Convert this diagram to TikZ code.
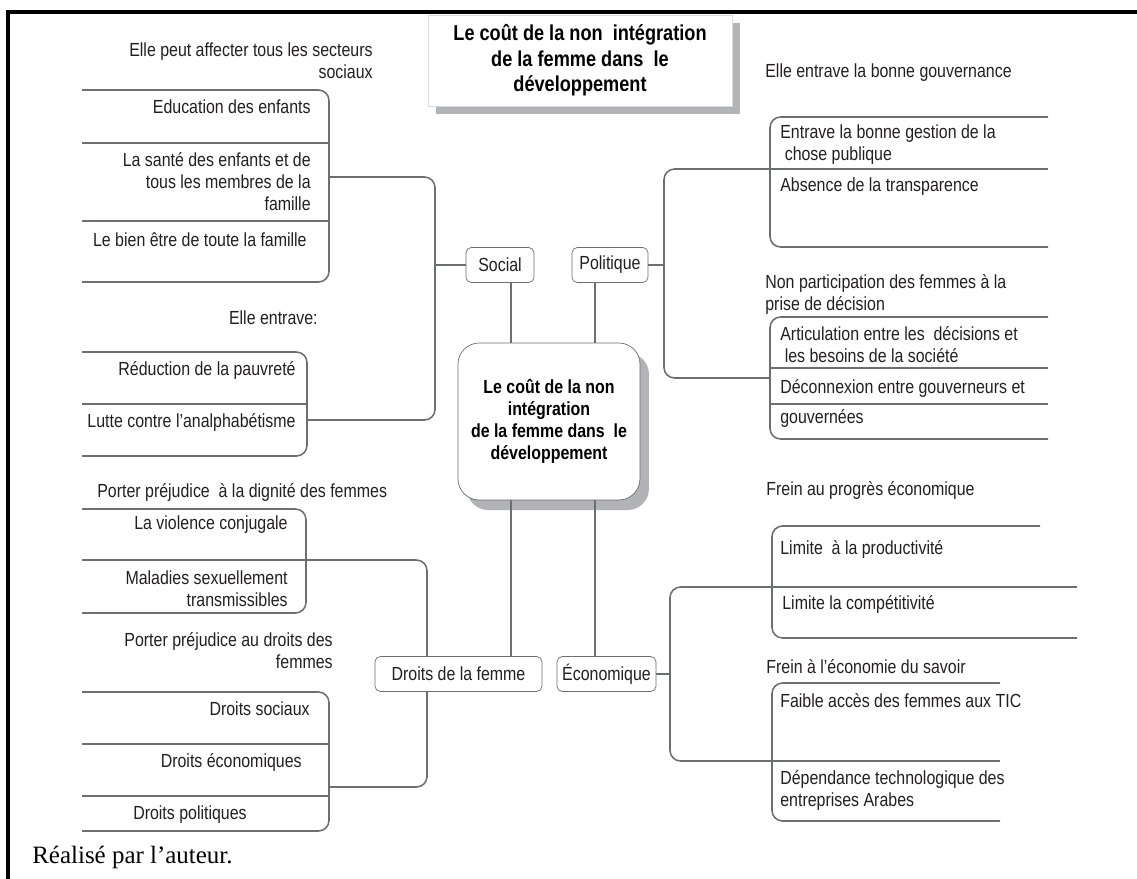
\documentclass[tikz,border=0pt]{standalone}
\usepackage{fontspec}
\setmainfont{Liberation Sans}[FakeStretch=0.84]
\newfontfamily\footfont{Liberation Serif}
\usetikzlibrary{shadows}
\definecolor{linegray}{HTML}{6D6E71}
\definecolor{shadegray}{HTML}{B1B3B6}
\definecolor{inkgray}{HTML}{231F20}

\begin{document}
\begin{tikzpicture}[x=0.02cm, y=-0.02cm]
            \tikzstyle{item} = [inner sep=0pt, text=inkgray, font=\fontsize{10.8}{12.5}\selectfont]
            \tikzstyle{itemr} = [item, anchor=east, align=right]
            \tikzstyle{iteml} = [item, anchor=west, align=left]
            \tikzstyle{branch} = [rectangle, draw=linegray, fill=white, rounded corners=3pt, inner sep=0pt, minimum height=0.7cm, text=inkgray, font=\fontsize{10.8}{12.5}\selectfont]
            \tikzstyle{hubbox} = [rectangle, draw=linegray, fill=white, rounded corners=12pt, minimum width=3.64cm, minimum height=3.14cm, align=center, text=black, font=\bfseries\fontsize{10.8}{12.5}\selectfont, drop shadow={shadow xshift=5.1pt, shadow yshift=-5.7pt, fill=shadegray, opacity=1}]
            \tikzstyle{titlebox} = [rectangle, draw=shadegray!50, fill=white, minimum width=6.08cm, minimum height=1.82cm, align=center, text=black, font=\bfseries\fontsize{12.3}{14.5}\selectfont, drop shadow={shadow xshift=4.5pt, shadow yshift=-4.5pt, fill=shadegray, opacity=1}]
            \tikzstyle{link} = [draw=linegray, line width=0.9pt]
            \tikzstyle{tree} = [link, rounded corners=6pt]

            \useasboundingbox (0,0) rectangle (1137,879);

            \node (title) [titlebox] at (580,60.5) {Le coût de la non~ intégration\\de la femme dans~ le\\développement};
            \draw [line width=2.2pt] (8,879) -- (8,12) -- (1137,12);

            % social
            \draw [tree] (82,90) -- (329,90) -- (329,282) -- (82,282);
            \draw [link] (82,143) -- (329,143);
            \draw [link] (82,221) -- (329,221);
            \draw [tree] (82,352) -- (307,352) -- (307,456) -- (82,456);
            \draw [link] (82,404) -- (307,404);
            \draw [tree] (329,177) -- (435,177) -- (435,420) -- (307,420);
            \coordinate (sjoint) at (435,265);

            \node (shead1) [itemr] at (373,61) {Elle peut affecter tous les secteurs\\sociaux};
            \node (seduc) [itemr] at (311,107) {Education des enfants};
            \node (ssante) [itemr] at (311,182) {La santé des enfants et de\\tous les membres de la\\famille};
            \node (sbien) [itemr] at (307,240) {Le bien être de toute la famille};
            \node (shead2) [itemr] at (318,318) {Elle entrave:};
            \node (spauv) [itemr] at (296,370) {Réduction de la pauvreté};
            \node (slutte) [itemr] at (296,422) {Lutte contre l’analphabétisme};

            % politique
            \draw [tree] (1048,117) -- (770,117) -- (770,247) -- (1048,247);
            \draw [link] (770,169) -- (1048,169);
            \draw [tree] (1048,317) -- (770,317) -- (770,439) -- (1048,439);
            \draw [link] (770,368) -- (1048,368);
            \draw [link] (770,404) -- (1048,404);
            \draw [tree] (770,169) -- (664,169) -- (664,378) -- (770,378);
            \coordinate (pjoint) at (664,265);

            \node (phead1) [iteml] at (765,73) {Elle entrave la bonne gouvernance};
            \node (pgest) [iteml] at (780,145) {Entrave la bonne gestion de la\\\ chose publique};
            \node (ptrans) [iteml] at (780,187) {Absence de la transparence};
            \node (phead2) [iteml] at (765,294) {Non participation des femmes à la\\prise de décision};
            \node (partic) [iteml] at (780,345) {Articulation entre les~ décisions et\\\ les besoins de la société};
            \node (pdecon) [iteml] at (780,388) {Déconnexion entre gouverneurs et};
            \node (pgouv) [iteml] at (780,418) {gouvernées};

            % droits de la femme
            \draw [tree] (82,509) -- (306,509) -- (306,613) -- (82,613);
            \draw [link] (82,560) -- (306,560);
            \draw [tree] (82,692) -- (329,692) -- (329,831) -- (82,831);
            \draw [link] (82,744) -- (329,744);
            \draw [link] (82,796) -- (329,796);
            \draw [tree] (306,560) -- (427,560) -- (427,787) -- (329,787);

            \node (dhead1) [iteml] at (97,492) {Porter préjudice~ à la dignité des femmes};
            \node (dviol) [itemr] at (288,525) {La violence conjugale};
            \node (dmal) [itemr] at (288,589) {Maladies sexuellement\\transmissibles};
            \node (dhead2) [itemr] at (333,651) {Porter préjudice au droits des\\femmes};
            \node (dsoc) [itemr] at (310,709) {Droits sociaux};
            \node (deco) [itemr] at (302,762) {Droits économiques};
            \node (dpol) [itemr] at (247,815) {Droits politiques};

            % economique
            \draw [tree] (1040,526) -- (772,526) -- (772,638) -- (1077,638);
            \draw [link] (772,587) -- (1077,587);
            \draw [tree] (1000,683) -- (772,683) -- (772,821) -- (1000,821);
            \draw [link] (772,761) -- (1000,761);
            \draw [tree] (772,587) -- (670,587) -- (670,761) -- (772,761);
            \coordinate (ejoint) at (670,674);

            \node (ehead1) [iteml] at (766,490) {Frein au progrès économique};
            \node (eprod) [iteml] at (780,549) {Limite~ à la productivité};
            \node (ecomp) [iteml] at (782,604) {Limite la compétitivité};
            \node (ehead2) [iteml] at (766,667) {Frein à l’économie du savoir};
            \node (etic) [iteml] at (780,701) {Faible accès des femmes aux TIC};
            \node (edep) [iteml] at (780,790) {Dépendance technologique des\\entreprises Arabes};

            % centre
            \node (hub) [hubbox] at (549,421.5) {Le coût de la non\\intégration\\de la femme dans~ le\\développement};
            \node (social) [branch, minimum width=1.36cm] at (500,265) {Social};
            \node (politique) [branch, minimum width=1.52cm] at (610,265) {Politique};
            \node (droits) [branch, minimum width=3.34cm] at (458.5,674) {Droits de la femme};
            \node (economique) [branch, minimum width=1.98cm] at (606.5,674) {Économique};

            \coordinate (lcol) at (511,0);
            \coordinate (rcol) at (595,0);
            \draw [link] (hub.north -| lcol) -- (social.south -| lcol);
            \draw [link] (hub.north -| rcol) -- (politique.south -| rcol);
            \draw [link] (hub.south -| lcol) -- (droits.north -| lcol);
            \draw [link] (hub.south -| rcol) -- (economique.north -| rcol);
            \draw [link] (social) -- (sjoint);
            \draw [link] (politique) -- (pjoint);
            \draw [link] (economique) -- (ejoint);

            \node (source) [anchor=west, inner sep=0pt, font=\footfont\fontsize{14.2}{16}\selectfont] at (32,857) {Réalisé par l’auteur.};
        \end{tikzpicture}
\end{document}
